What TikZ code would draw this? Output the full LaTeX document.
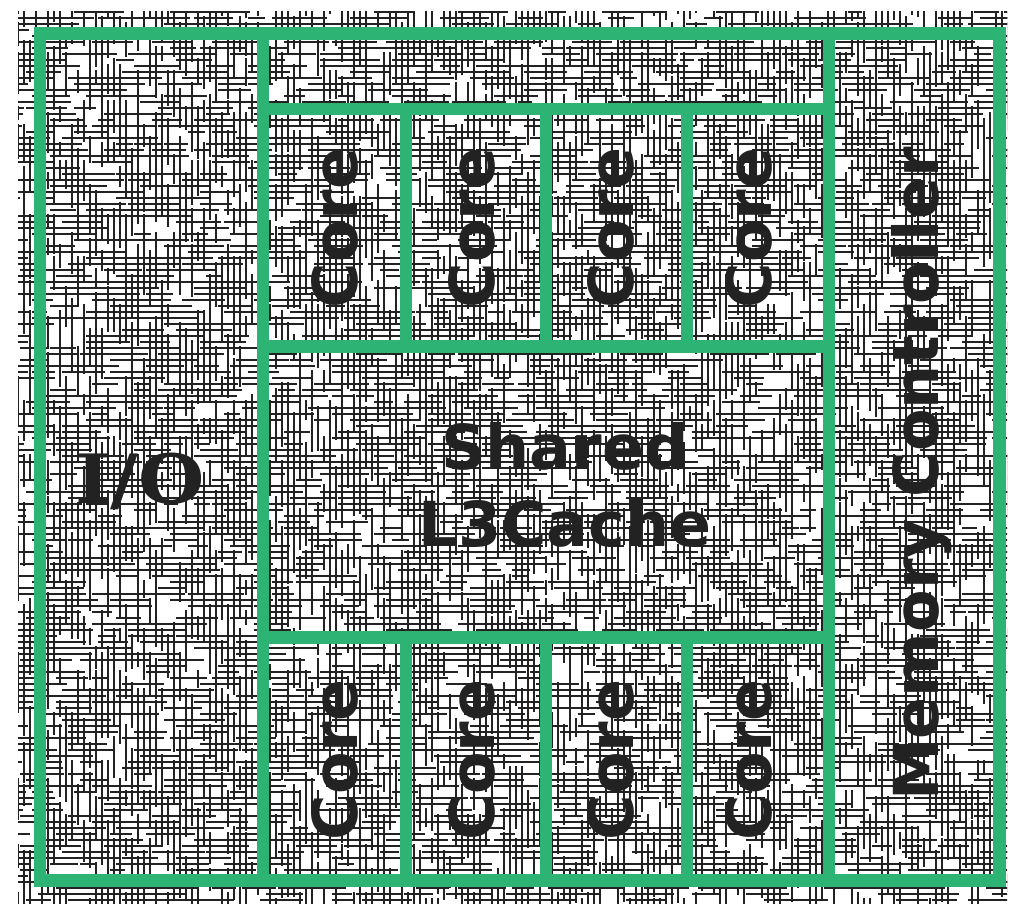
\documentclass[tikz,border=0pt]{standalone}
\usepackage{fontspec}
\setmainfont{DejaVu Sans}
\newfontfamily\ioface{DejaVu Serif}
\definecolor{chipgreen}{HTML}{2DB374}
\definecolor{ink}{HTML}{222222}
\begin{document}
\begin{tikzpicture}[x=1pt,y=-1pt,
  frame/.style={draw=chipgreen,line width=12.5pt},
  hatch/.style={draw=ink,line width=1.6pt},
  lbl/.style={text=ink,inner sep=0pt,font=\fontsize{62}{77}\selectfont\bfseries},
  vlbl/.style={lbl,rotate=90,anchor=base}]

% page
\fill[white] (0,0) rectangle (1009,904);
\useasboundingbox (0,0) rectangle (1009,904);

% random cross-hatched die texture, strokes snapped to a 6pt grid
\begin{scope}
  \clip (18,12) rectangle (1007,903);
  \pgfmathsetseed{7}
  \foreach \k in {1,...,110}{
    \draw[hatch] \foreach \i in {1,...,50}{
      ({-28+6*round(rnd*173)},{12+6*round(rnd*149)}) -- ++({14+rnd*32},0)
      ({18+6*round(rnd*165)},{-32+6*round(rnd*156)}) -- ++(0,{14+rnd*32})
    };
  }
\end{scope}

% block outlines
\draw[frame] (40,33.5) rectangle (999.5,880.5);
\draw[frame] (263,33.5) -- (263,880.5);
\draw[frame] (829,33.5) -- (829,880.5);
\draw[frame] (263,109) -- (829,109);
\draw[frame] (263,346.5) -- (829,346.5);
\draw[frame] (263,637.5) -- (829,637.5);
\foreach \cx in {406,546,687}{
  \draw[frame] (\cx,109) -- (\cx,346.5);
  \draw[frame] (\cx,637.5) -- (\cx,880.5);
}

% labels
\node[lbl,anchor=base,xscale=1.12,font=\fontsize{68}{77}\selectfont\bfseries\ioface] (io) at (140,503) {I/O};
\node[vlbl] (mc) at (938,474) {Memory Controller};
\node[lbl,align=center] (l3) at (565,485) {Shared\\L3Cache};

\node[vlbl] (c1) at (357,228) {Core};
\node[vlbl] (c2) at (494,228) {Core};
\node[vlbl] (c3) at (633,228) {Core};
\node[vlbl] (c4) at (771,228) {Core};
\node[vlbl] (c5) at (357,760) {Core};
\node[vlbl] (c6) at (494,760) {Core};
\node[vlbl] (c7) at (633,760) {Core};
\node[vlbl] (c8) at (771,760) {Core};
\end{tikzpicture}
\end{document}
